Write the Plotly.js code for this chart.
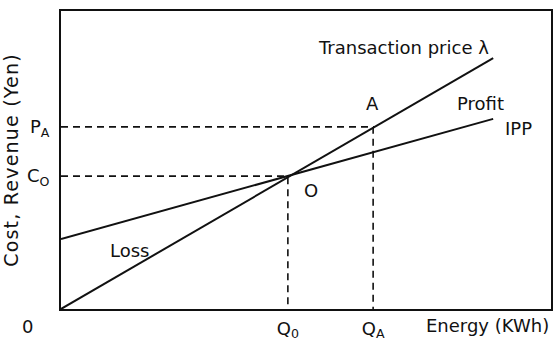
<!DOCTYPE html>
<html><head><meta charset="utf-8">
<script src="https://cdn.plot.ly/plotly-3.0.1.min.js"></script>
<style>body{margin:0;background:#fff}#c{width:553px;height:340px}.ytitle{letter-spacing:1.2px}</style>
</head><body><div id="c"></div>
<script>
// Line endpoints (energy, cost/revenue) in arbitrary units
const priceX = [0, 88.2];
const priceY = [0, 84.2];
const ippX = [0, 88.2];
const ippY = [23.5, 63.8];
// Key points
const Q0 = 46.3, C0 = 44.6;
const QA = 63.7, PA = 61.1;
const xTickVals = [Q0, QA];
const xTickText = ['Q<sub>0</sub>', 'Q<sub>A</sub>'];
const yTickVals = [C0, PA];
const yTickText = ['C<sub>O</sub>', 'P<sub>A</sub>'];

const F = 'DejaVu Sans, Liberation Sans, Arial, sans-serif';
const black = '#111';
const traces = [
  {x: priceX, y: priceY, mode: 'lines', line: {color: black, width: 2}, hoverinfo: 'skip'},
  {x: ippX, y: ippY, mode: 'lines', line: {color: black, width: 2}, hoverinfo: 'skip'},
  {x: [0, Q0, Q0], y: [C0, C0, 0], mode: 'lines', line: {color: black, width: 1.6, dash: '7px,5px'}, hoverinfo: 'skip'},
  {x: [0, QA, QA], y: [PA, PA, 0], mode: 'lines', line: {color: black, width: 1.6, dash: '7px,5px'}, hoverinfo: 'skip'}
];
const ann = (x, y, text, extra) => Object.assign({x, y, xref: 'x', yref: 'y', text, showarrow: false, font: {family: F, size: 18, color: black}}, extra || {});
const layout = {
  width: 553, height: 340,
  margin: {l: 61, r: 2, t: 11, b: 31},
  paper_bgcolor: '#fff', plot_bgcolor: '#fff',
  showlegend: false,
  xaxis: {range: [0, 100], showgrid: false, zeroline: false, showline: true, mirror: true, linewidth: 2, linecolor: black,
    tickvals: xTickVals, ticktext: xTickText, ticks: '', ticklabelstandoff: 2, tickfont: {family: F, size: 18, color: black}},
  yaxis: {range: [0, 100], showgrid: false, zeroline: false, showline: true, mirror: true, linewidth: 2, linecolor: black,
    tickvals: yTickVals, ticktext: yTickText, ticks: '', ticklabelstandoff: 6, tickfont: {family: F, size: 18, color: black},
    title: {text: 'Cost, Revenue (Yen)', font: {family: F, size: 19, color: black}, standoff: 12}},
  annotations: [
    ann(-0.0837, -0.06, '0', {xref: 'paper', yref: 'paper', yanchor: 'middle'}),
    ann(1.0, -0.054, 'Energy (KWh)', {xref: 'paper', yref: 'paper', xanchor: 'right', yanchor: 'middle'}),
    ann(69.8, 87.9, 'Transaction price λ'),
    ann(63.5, 68.8, 'A'),
    ann(85.7, 69.1, 'Profit'),
    ann(93.3, 60.7, 'IPP'),
    ann(51.0, 39.9, 'O'),
    ann(13.9, 19.8, 'Loss')
  ]
};
Plotly.newPlot('c', traces, layout, {staticPlot: true, displayModeBar: false});
</script></body></html>
